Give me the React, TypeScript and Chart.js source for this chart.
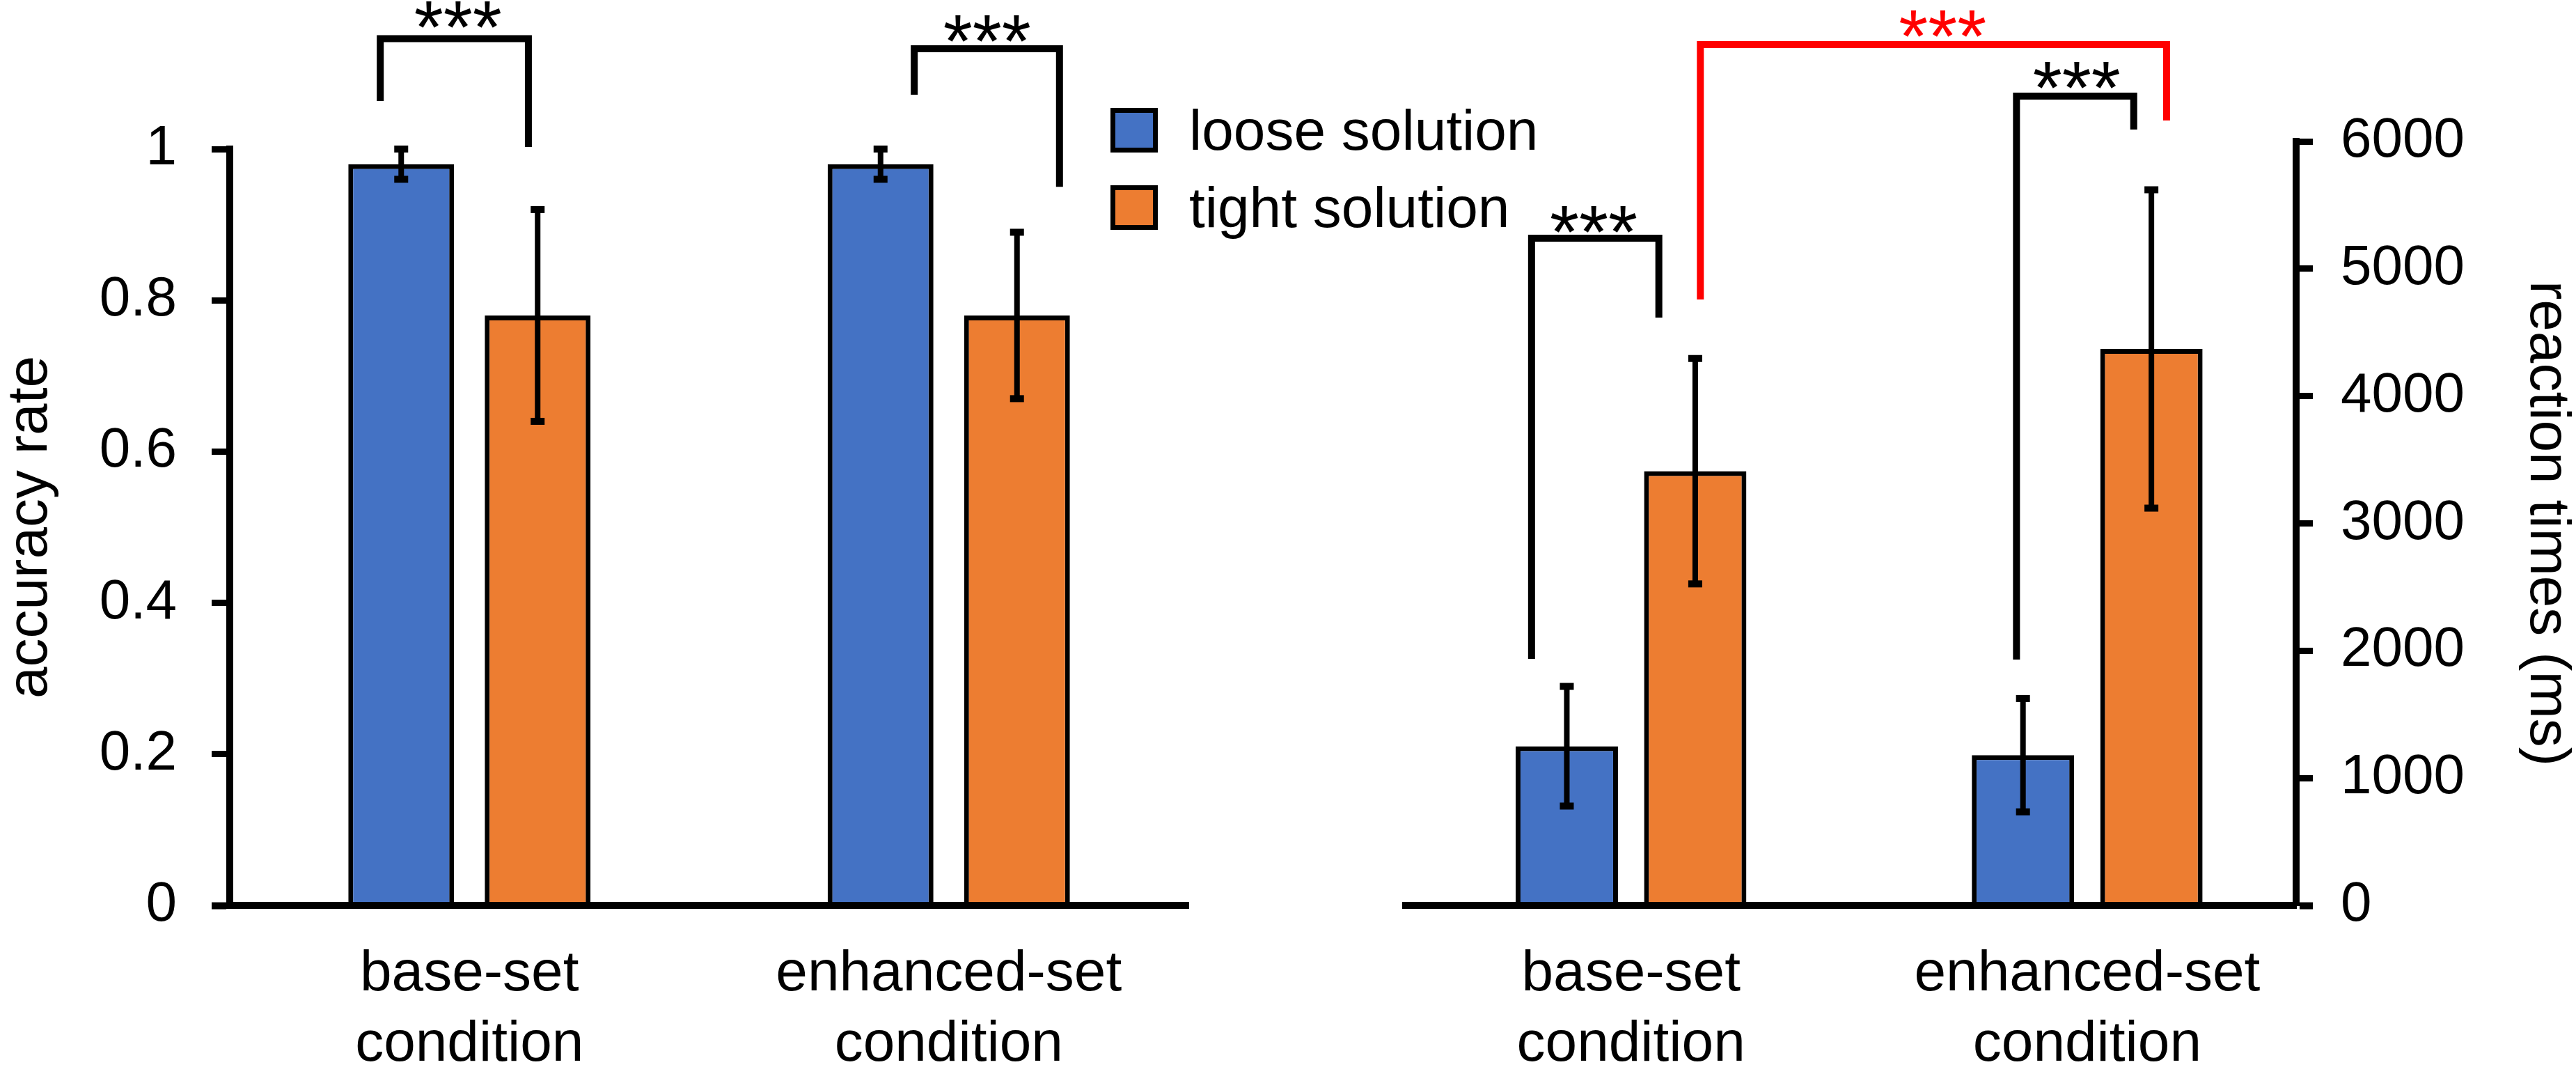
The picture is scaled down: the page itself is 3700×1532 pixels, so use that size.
import React, { useEffect, useRef } from 'react';
import { Chart, registerables } from 'chart.js';

Chart.register(...registerables);

// ---------------- data ----------------
const conditions = [
  ['base-set', 'condition'],
  ['enhanced-set', 'condition'],
];
const seriesNames = ['loose solution', 'tight solution'];

const accuracyLoose = [0.98, 0.98];
const accuracyLooseErr = [0.02, 0.02];
const accuracyTight = [0.78, 0.78];
const accuracyTightErr = [0.14, 0.11];

const rtLoose = [1250, 1180];
const rtLooseErr = [470, 445];
const rtTight = [3410, 4370];
const rtTightErr = [885, 1250];

const accuracyTicks = [0, 0.2, 0.4, 0.6, 0.8, 1];
const rtTicks = [0, 1000, 2000, 3000, 4000, 5000, 6000];

const significance = '***';

// ---------------- styling ----------------
const FONT = "'Liberation Sans', Arial, Helvetica, sans-serif";
const BLUE = '#4472C4';
const ORANGE = '#ED7D31';
const BLACK = '#000000';
const RED = '#FF0000';

// bracket annotations (in axis units: x = category position, y = value)
const accuracyBrackets = [
  { x1: -0.186, x2: 0.123, top: 1.146, b1: 1.0635, b2: 1.0028, sx: -0.024, sy: 1.174, color: BLACK },
  { x1: 0.928, x2: 1.231, top: 1.1326, b1: 1.0718, b2: 0.95, sx: 1.08, sy: 1.1556, color: BLACK },
];
const rtBrackets = [
  { x1: -0.218, x2: 0.061, top: 5240, b1: 1936, b2: 4616, sx: -0.082, sy: 5366, color: BLACK },
  { x1: 0.845, x2: 1.102, top: 6356, b1: 1931, b2: 6093, sx: 0.977, sy: 6498, color: BLACK },
  { x1: 0.152, x2: 1.174, top: 6760, b1: 4758, b2: 6164, sx: 0.683, sy: 6903, color: RED },
];

const valueOf = (d: any) => (typeof d === 'number' ? d : d.y);

const errorBarPlugin = {
  id: 'errorBars',
  afterDatasetsDraw(chart: any) {
    const ctx = chart.ctx;
    const y = chart.scales.y;
    chart.data.datasets.forEach((ds: any, di: number) => {
      const meta = chart.getDatasetMeta(di);
      const errs: number[] = ds.errors || [];
      meta.data.forEach((bar: any, i: number) => {
        const v = valueOf(ds.data[i]);
        const e = errs[i];
        if (e == null) return;
        const pTop = y.getPixelForValue(v + e);
        const pBot = y.getPixelForValue(v - e);
        ctx.save();
        ctx.strokeStyle = BLACK;
        ctx.fillStyle = BLACK;
        ctx.lineWidth = 8;
        ctx.beginPath();
        ctx.moveTo(bar.x, pTop);
        ctx.lineTo(bar.x, pBot);
        ctx.stroke();
        ctx.fillRect(bar.x - 10, pTop - 5, 20, 10);
        ctx.fillRect(bar.x - 10, pBot - 5, 20, 10);
        ctx.restore();
      });
    });
  },
};

const bracketPlugin = {
  id: 'brackets',
  afterDraw(chart: any, _args: any, opts: any) {
    const items = (opts && opts.items) || [];
    const ctx = chart.ctx;
    const xs = chart.scales.x;
    const ys = chart.scales.y;
    const px = (v: number) => {
      if (xs.type === 'category') {
        const p0 = xs.getPixelForValue(0);
        const p1 = xs.getPixelForValue(1);
        return p0 + (p1 - p0) * v;
      }
      return xs.getPixelForValue(v);
    };
    items.forEach((b: any) => {
      ctx.save();
      ctx.strokeStyle = b.color;
      ctx.lineWidth = 10;
      ctx.lineJoin = 'miter';
      ctx.lineCap = 'butt';
      ctx.beginPath();
      ctx.moveTo(px(b.x1), ys.getPixelForValue(b.b1));
      ctx.lineTo(px(b.x1), ys.getPixelForValue(b.top));
      ctx.lineTo(px(b.x2), ys.getPixelForValue(b.top));
      ctx.lineTo(px(b.x2), ys.getPixelForValue(b.b2));
      ctx.stroke();
      const fs = 108;
      ctx.font = `${fs}px ${FONT}`;
      ctx.fillStyle = b.color;
      ctx.textAlign = 'center';
      ctx.textBaseline = 'alphabetic';
      ctx.fillText(significance, px(b.sx), ys.getPixelForValue(b.sy) + fs * 0.47);
      ctx.restore();
    });
  },
};

const legendPlugin = {
  id: 'sideLegend',
  afterDraw(chart: any, _args: any, opts: any) {
    if (!opts || !opts.show) return;
    const ctx = chart.ctx;
    chart.data.datasets.forEach((ds: any, i: number) => {
      const top = opts.top + i * opts.rowGap;
      const bw = 7;
      ctx.save();
      ctx.fillStyle = BLACK;
      ctx.fillRect(opts.x, top, opts.boxW, opts.boxH);
      ctx.fillStyle = ds.backgroundColor;
      ctx.fillRect(opts.x + bw, top + bw, opts.boxW - 2 * bw, opts.boxH - 2 * bw);
      ctx.fillStyle = BLACK;
      ctx.font = `82px ${FONT}`;
      ctx.textAlign = 'left';
      ctx.textBaseline = 'alphabetic';
      ctx.fillText(ds.label, opts.textX, top + opts.boxH - 4);
      ctx.restore();
    });
  },
};

const tickFont = { family: FONT, size: 80 };
const labelFont = { family: FONT, size: 82, lineHeight: 1.23 };
const titleFont = { family: FONT, size: 82 };

function makeAccuracyChart(canvas: HTMLCanvasElement) {
  return new Chart(canvas, {
    type: 'bar',
    data: {
      labels: conditions as any,
      datasets: [
        {
          label: seriesNames[0],
          data: accuracyLoose,
          backgroundColor: BLUE,
          borderColor: BLACK,
          borderWidth: 7,
          errors: accuracyLooseErr,
        } as any,
        {
          label: seriesNames[1],
          data: accuracyTight,
          backgroundColor: ORANGE,
          borderColor: BLACK,
          borderWidth: 7,
          errors: accuracyTightErr,
        } as any,
      ],
    },
    options: {
      responsive: false,
      animation: false,
      devicePixelRatio: 1,
      layout: { padding: { left: 0, top: 214, right: 3700 - 1707, bottom: 0 } },
      datasets: { bar: { categoryPercentage: 0.5693, barPercentage: 0.7755 } },
      plugins: {
        legend: { display: false },
        tooltip: { enabled: false },
        brackets: { items: accuracyBrackets },
        sideLegend: { show: true, x: 1595, top: 155, rowGap: 111, boxW: 68, boxH: 64, textX: 1708 },
      } as any,
      scales: {
        x: {
          type: 'category',
          offset: true,
          grid: { display: false, drawTicks: false },
          border: { display: true, color: BLACK, width: 10, z: 1 },
          ticks: { color: BLACK, font: labelFont, padding: 49, maxRotation: 0, autoSkip: false },
          afterFit: (s: any) => { s.height = 232; },
        },
        y: {
          type: 'linear',
          position: 'left',
          min: 0,
          max: 1,
          grid: {
            drawOnChartArea: false,
            drawTicks: true,
            tickLength: 26,
            tickColor: BLACK,
            tickWidth: (c: any) => (c.tick && c.tick.value === 0 ? 10 : 9),
          },
          border: { display: true, color: BLACK, width: 10 },
          ticks: { color: BLACK, font: tickFont, padding: 50, callback: (v: any) => String(v) },
          afterBuildTicks: (s: any) => { s.ticks = accuracyTicks.map((v) => ({ value: v })); },
          title: { display: true, text: 'accuracy rate', color: BLACK, font: titleFont, padding: { top: -5, bottom: 0 } },
          afterFit: (s: any) => { s.width = 330; },
        },
      },
    } as any,
    plugins: [errorBarPlugin, bracketPlugin, legendPlugin],
  });
}

function makeRtChart(canvas: HTMLCanvasElement) {
  return new Chart(canvas, {
    type: 'bar',
    data: {
      datasets: [
        {
          label: seriesNames[0],
          data: rtLoose.map((v, i) => ({ x: i, y: v })),
          backgroundColor: BLUE,
          borderColor: BLACK,
          borderWidth: 7,
          errors: rtLooseErr,
        } as any,
        {
          label: seriesNames[1],
          data: rtTight.map((v, i) => ({ x: i, y: v })),
          backgroundColor: ORANGE,
          borderColor: BLACK,
          borderWidth: 7,
          errors: rtTightErr,
        } as any,
      ],
    },
    options: {
      responsive: false,
      animation: false,
      devicePixelRatio: 1,
      layout: { padding: { left: 2019, top: 203, right: 0, bottom: 0 } },
      datasets: { bar: { categoryPercentage: 0.563, barPercentage: 0.797 } },
      plugins: {
        legend: { display: false },
        tooltip: { enabled: false },
        brackets: { items: rtBrackets },
        sideLegend: { show: false },
      } as any,
      scales: {
        x: {
          type: 'linear',
          min: -0.494,
          max: 1.458,
          offset: false,
          grid: { display: false, drawTicks: false },
          border: { display: true, color: BLACK, width: 10, z: 1 },
          ticks: {
            color: BLACK,
            font: labelFont,
            padding: 49,
            maxRotation: 0,
            autoSkip: false,
            callback: (v: any) => conditions[v as number] as any,
          },
          afterBuildTicks: (s: any) => { s.ticks = conditions.map((_, i) => ({ value: i })); },
          afterFit: (s: any) => { s.height = 232; },
        },
        y: {
          type: 'linear',
          position: 'right',
          min: 0,
          max: 6000,
          grid: {
            drawOnChartArea: false,
            drawTicks: true,
            tickLength: 24,
            tickColor: BLACK,
            tickWidth: (c: any) => (c.tick && c.tick.value === 0 ? 10 : 9),
          },
          border: { display: true, color: BLACK, width: 10 },
          ticks: { color: BLACK, font: tickFont, padding: 40, callback: (v: any) => String(v) },
          afterBuildTicks: (s: any) => { s.ticks = rtTicks.map((v) => ({ value: v })); },
          title: { display: true, text: 'reaction times (ms)', color: BLACK, font: titleFont, padding: { top: -7, bottom: 0 } },
          afterFit: (s: any) => { s.width = 3700 - 3298; },
        },
      },
    } as any,
    plugins: [errorBarPlugin, bracketPlugin, legendPlugin],
  });
}

export default function App() {
  const leftRef = useRef<HTMLCanvasElement>(null);
  const rightRef = useRef<HTMLCanvasElement>(null);

  useEffect(() => {
    const charts: Chart[] = [];
    if (leftRef.current) charts.push(makeAccuracyChart(leftRef.current));
    if (rightRef.current) charts.push(makeRtChart(rightRef.current));
    return () => {
      charts.forEach((c) => c.destroy());
    };
  }, []);

  const canvasStyle: React.CSSProperties = {
    position: 'absolute',
    left: 0,
    top: 0,
    width: 3700,
    height: 1532,
  };

  return (
    <div
      style={{
        position: 'absolute',
        left: 0,
        top: 0,
        width: 3700,
        height: 1532,
        background: '#ffffff',
        overflow: 'hidden',
      }}
    >
      <canvas ref={leftRef} width={3700} height={1532} style={canvasStyle} />
      <canvas ref={rightRef} width={3700} height={1532} style={canvasStyle} />
    </div>
  );
}
